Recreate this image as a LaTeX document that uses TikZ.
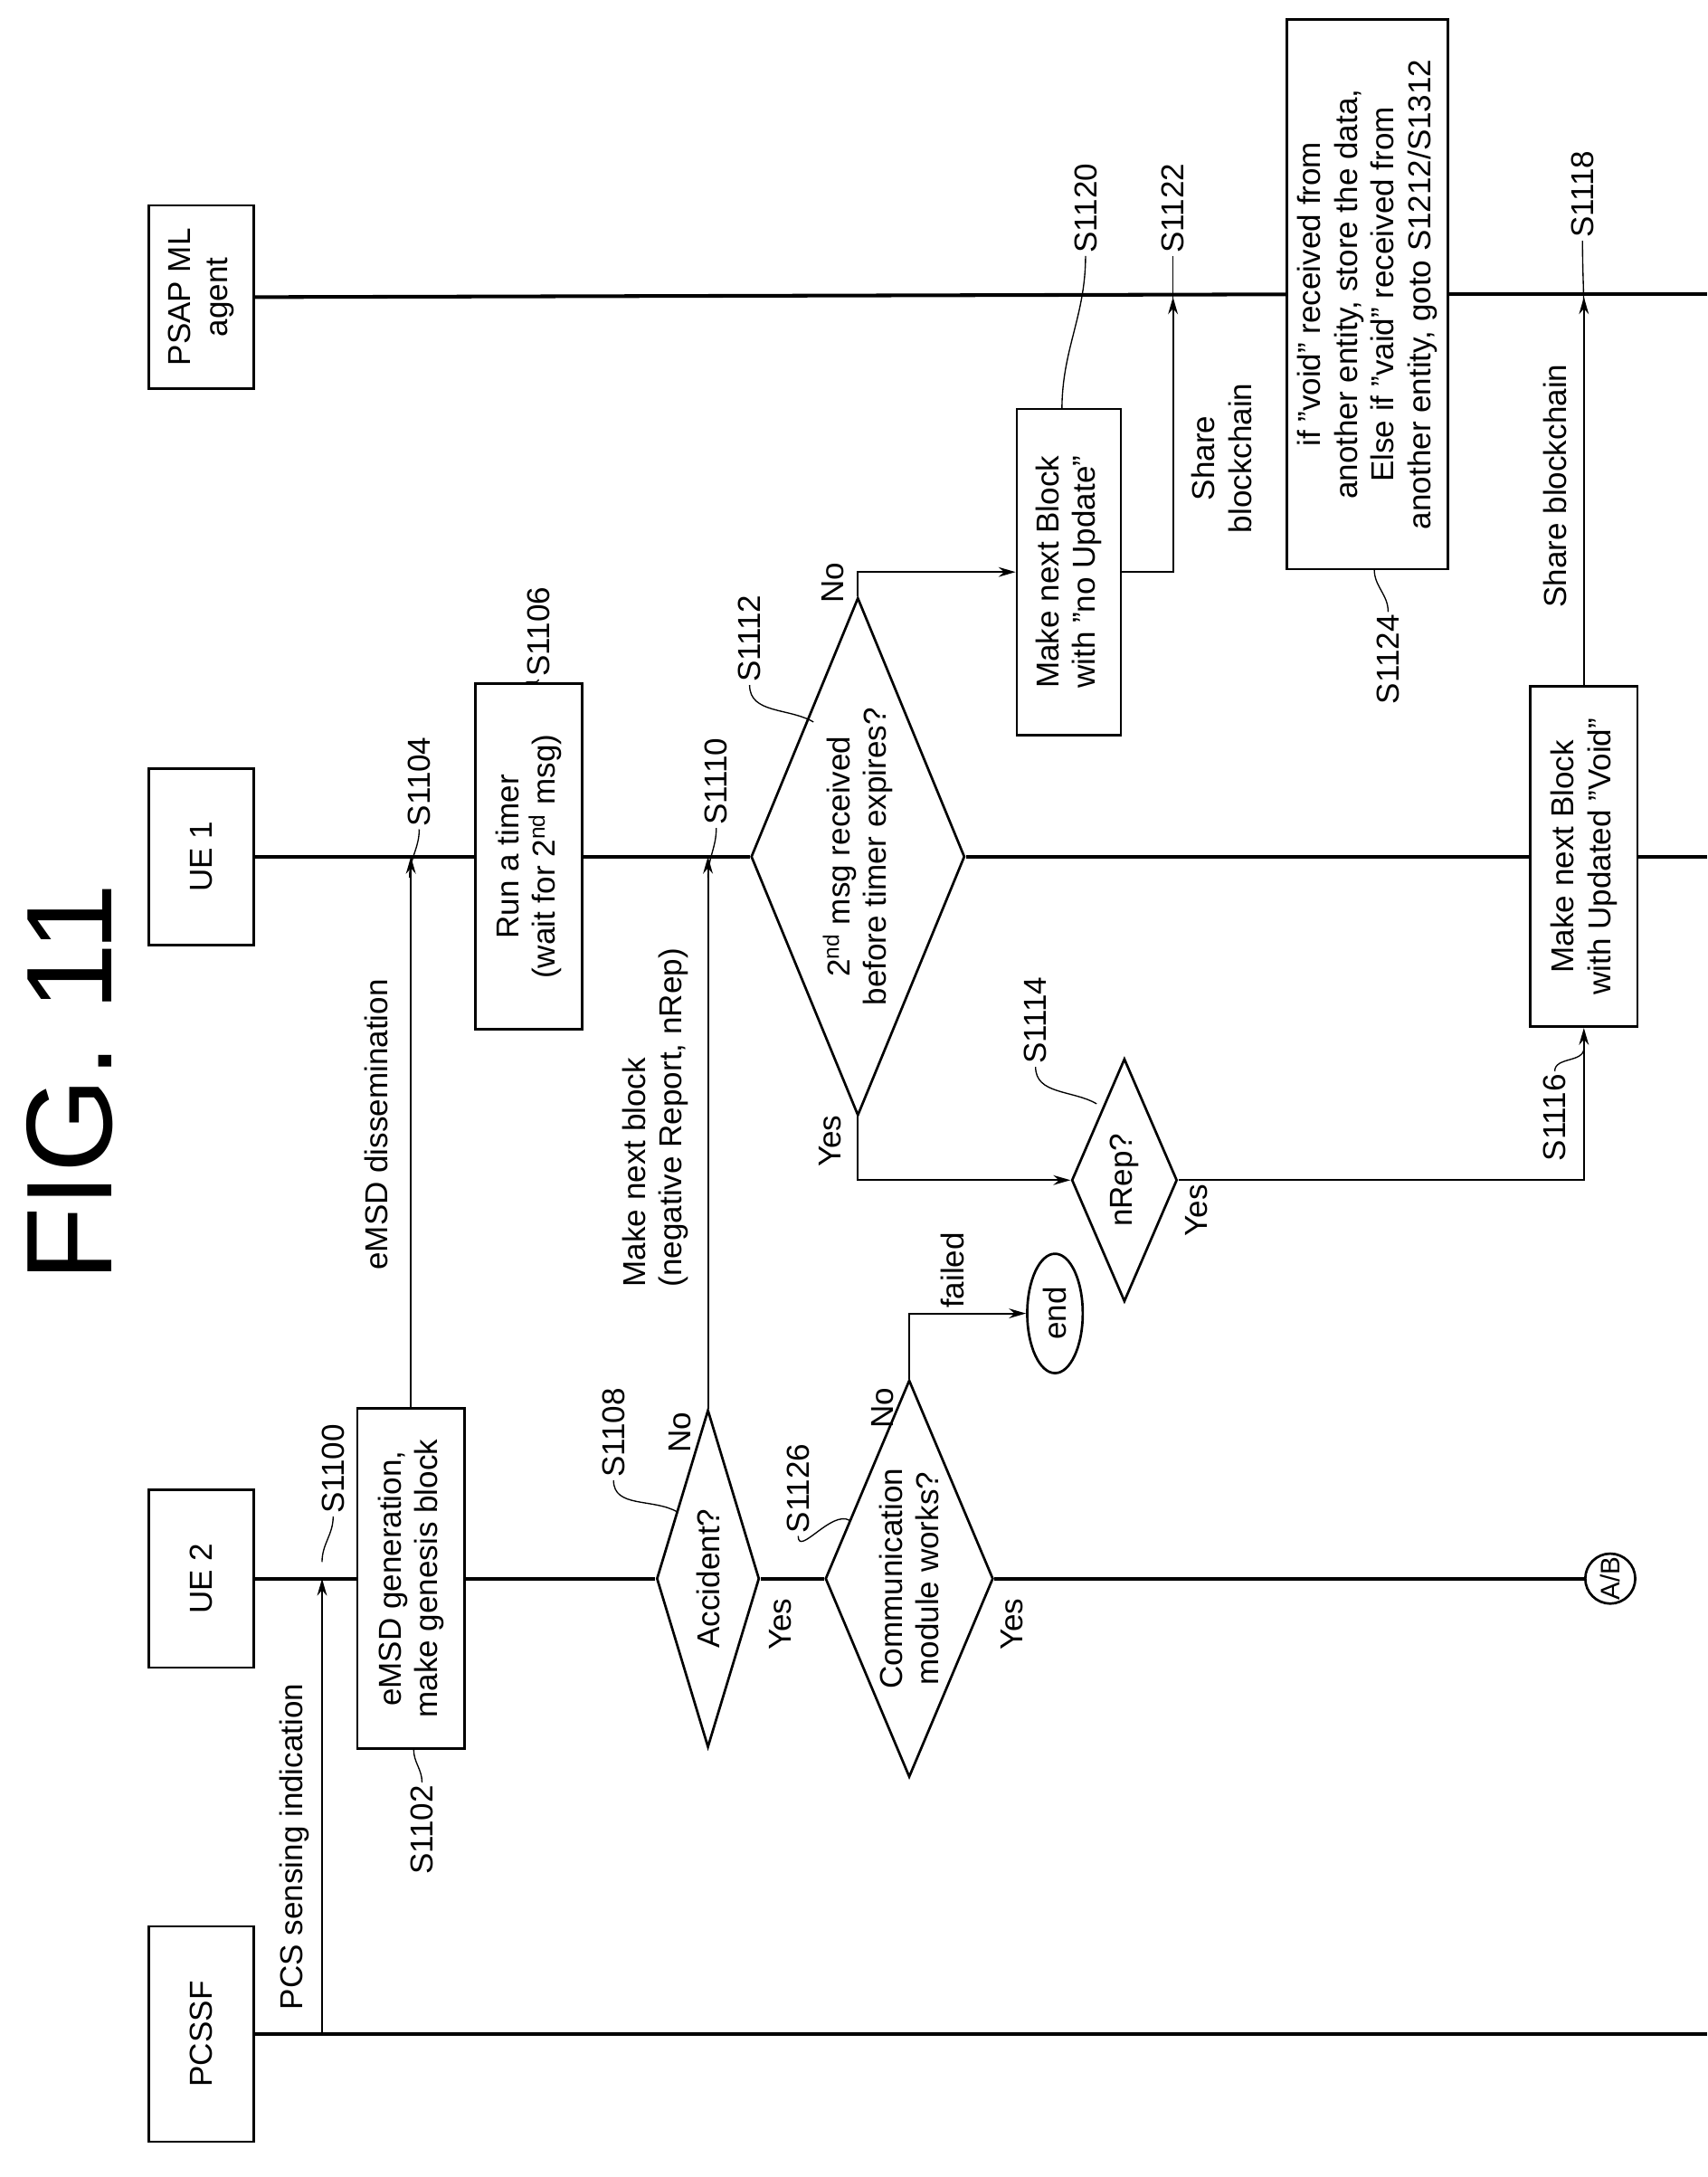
\documentclass[tikz,border=0pt]{standalone}
\usepackage{fontspec}
\setmainfont{Liberation Sans}
\usetikzlibrary{arrows.meta, shapes.geometric}

\begin{document}
\begin{tikzpicture}[
    x=0.02cm, y=-0.02cm,
    font=\fontsize{13}{15}\selectfont,
    every node/.style = {rotate=90, inner sep=1pt},
    punkt/.style = {rectangle, draw, line width=1pt, align=center},
    rombe/.style = {diamond, draw, line width=1pt, inner sep=0pt},
    life/.style = {line width=1.5pt},
    pil/.style = {black, line width=0.7pt, -{Stealth[length=7pt,width=4pt]}},
    lead/.style = {line width=0.5pt},
    ref/.style = {}
    ]
  \useasboundingbox (0,0) rectangle (1230,1568);

  \node[font=\fontsize{50}{52}\selectfont] (fig) at (50,780) {FIG. 11};

  % entities
  \node[punkt, minimum width=2.64cm, minimum height=1.52cm] (psap) at (145,214) {PSAP ML\\agent};
  \node[punkt, minimum width=2.54cm, minimum height=1.52cm] (ue1) at (145,617) {UE 1};
  \node[punkt, minimum width=2.56cm, minimum height=1.52cm] (ue2) at (145,1137) {UE 2};
  \node[punkt, minimum width=3.1cm, minimum height=1.52cm] (pcssf) at (145,1465) {PCSSF};

  % steps
  \node[punkt, minimum width=4.9cm, minimum height=1.54cm] (emsd) at (296,1137) {eMSD generation,\\make genesis block};
  \node[punkt, minimum width=4.98cm, minimum height=1.54cm] (timer) at (381,617) {Run a timer\\(wait for 2\textsuperscript{nd} msg)};
  \node[rombe, minimum width=4.86cm, minimum height=1.48cm] (acc) at (510,1137) {};
  \node (acctxt) at (acc) {Accident?};
  \node[rombe, minimum width=7.46cm, minimum height=3.08cm] (msg) at (618,617) {};
  \node[align=center] (msgtxt) at (msg) {2\textsuperscript{nd} msg received\\before timer expires?};
  \node[rombe, minimum width=5.72cm, minimum height=2.42cm] (comm) at (655,1137) {};
  \node[align=center] (commtxt) at (comm) {Communication\\module works?};
  \node[rombe, minimum width=3.5cm, minimum height=1.52cm] (nrep) at (810,850) {};
  \node (nreptxt) at (nrep) {nRep?};
  \node[ellipse, draw, line width=1pt, minimum width=1.72cm, minimum height=0.8cm] (endn) at (760,946) {end};
  \node[punkt, minimum width=4.7cm, minimum height=1.5cm] (noupd) at (770,412) {Make next Block\\with "no Update"};
  \node[punkt, minimum width=7.92cm, minimum height=2.32cm] (big) at (985,212) {if "void" received from\\another entity, store the data,\\Else if "vaid" received from\\another entity, goto S1212/S1312};
  \node[punkt, minimum width=4.9cm, minimum height=1.54cm] (void) at (1141,617) {Make next Block\\with Updated "Void"};
  \node[circle, draw, line width=1pt, minimum size=0.72cm, inner sep=0pt, font=\fontsize{11}{12}\selectfont] (ab) at (1160,1137) {A/B};

  % lifelines
  \draw[life] (psap.south) -- (big.north);
  \draw[life] (big.south) -- (1230,212);
  \draw[life] (ue1.south) -- (timer.north);
  \draw[life] (timer.south) -- (msg.north);
  \draw[life] (msg.south) -- (void.north);
  \draw[life] (void.south) -- (1230,617);
  \draw[life] (ue2.south) -- (emsd.north);
  \draw[life] (emsd.south) -- (acc.north);
  \draw[life] (acc.south) -- (comm.north);
  \draw[life] (comm.south) -- (ab);
  \draw[life] (pcssf.south) -- (1230,1465);

  % messages
  \coordinate (pcs) at (232,1465);
  \coordinate (share1) at (845,412);
  \draw[pil] (pcs) -- (pcs |- ue2);
  \draw[pil] (emsd.east) -- (emsd.east |- ue1);
  \draw[pil] (acc.east) -- (acc.east |- ue1);
  \draw[pil] (msg.east) |- (noupd.north);
  \draw[pil] (noupd.south) -- (share1) -- (share1 |- psap);
  \draw[pil] (msg.west) |- (nrep.north);
  \draw[pil] (nrep.south) -| (void.west);
  \draw[pil] (void.east) -- (void.east |- psap);
  \draw[pil] (comm.east) |- (endn.north);

  \node (lpcs) at (212,1330) {PCS sensing indication};
  \node (ldis) at (271,810) {eMSD dissemination};
  \node[align=left] (lrep) at (472,805) {Make next block\\(negative Report, nRep)};
  \node[align=center] (lsh1) at (880,330) {Share\\blockchain};
  \node (lsh2) at (1120,350) {Share blockchain};
  \node (lfail) at (686,915) {failed};
  \node (ano) at (490,1032) {No};
  \node (ayes) at (562,1170) {Yes};
  \node (cno) at (636,1014) {No};
  \node (cyes) at (729,1170) {Yes};
  \node (mno) at (600,420) {No};
  \node (myes) at (598,822) {Yes};
  \node (nyes) at (862,872) {Yes};

  % step references
  \node[ref] (r1100) at (240,1058) {S1100};
  \node[ref] (r1102) at (304,1318) {S1102};
  \node[ref] (r1104) at (302,563) {S1104};
  \node[ref] (r1106) at (388,455) {S1106};
  \node[ref] (r1108) at (442,1032) {S1108};
  \node[ref] (r1110) at (516,563) {S1110};
  \node[ref] (r1112) at (540,460) {S1112};
  \node[ref] (r1114) at (746,735) {S1114};
  \node[ref] (r1116) at (1120,805) {S1116};
  \node[ref] (r1118) at (1140,140) {S1118};
  \node[ref] (r1120) at (782,150) {S1120};
  \node[ref] (r1122) at (845,150) {S1122};
  \node[ref] (r1124) at (1000,475) {S1124};
  \node[ref] (r1126) at (575,1072) {S1126};

  \draw[lead] (r1100.west) to[out=-90,in=90] (232,1125);
  \draw[lead] (r1102.east) to[out=90,in=-90] (298,1260);
  \draw[lead] (r1104.west) to[out=-90,in=90] (295,632);
  \draw[lead] (r1106.west) to[out=-90,in=90] (378,493);
  \draw[lead] (r1108.west) to[out=-90,in=150] (488,1089);
  \draw[lead] (r1110.west) to[out=-90,in=90] (510,632);
  \draw[lead] (r1112.west) to[out=-90,in=150] (586,520);
  \draw[lead] (r1114.west) to[out=-90,in=150] (790,795);
  \draw[lead] (r1116.east) to[out=90,in=-90] (1141,755);
  \draw[lead] (r1118.west) to[out=-90,in=90] (1141,230);
  \draw[lead] (r1120.west) to[out=-90,in=90] (765,295);
  \draw[lead] (r1122.west) to[out=-90,in=90] (845,230);
  \draw[lead] (r1124.east) to[out=90,in=-90] (990,410);
  \draw[lead] (r1126.west) to[out=-90,in=150] (612,1095);
\end{tikzpicture}
\end{document}
